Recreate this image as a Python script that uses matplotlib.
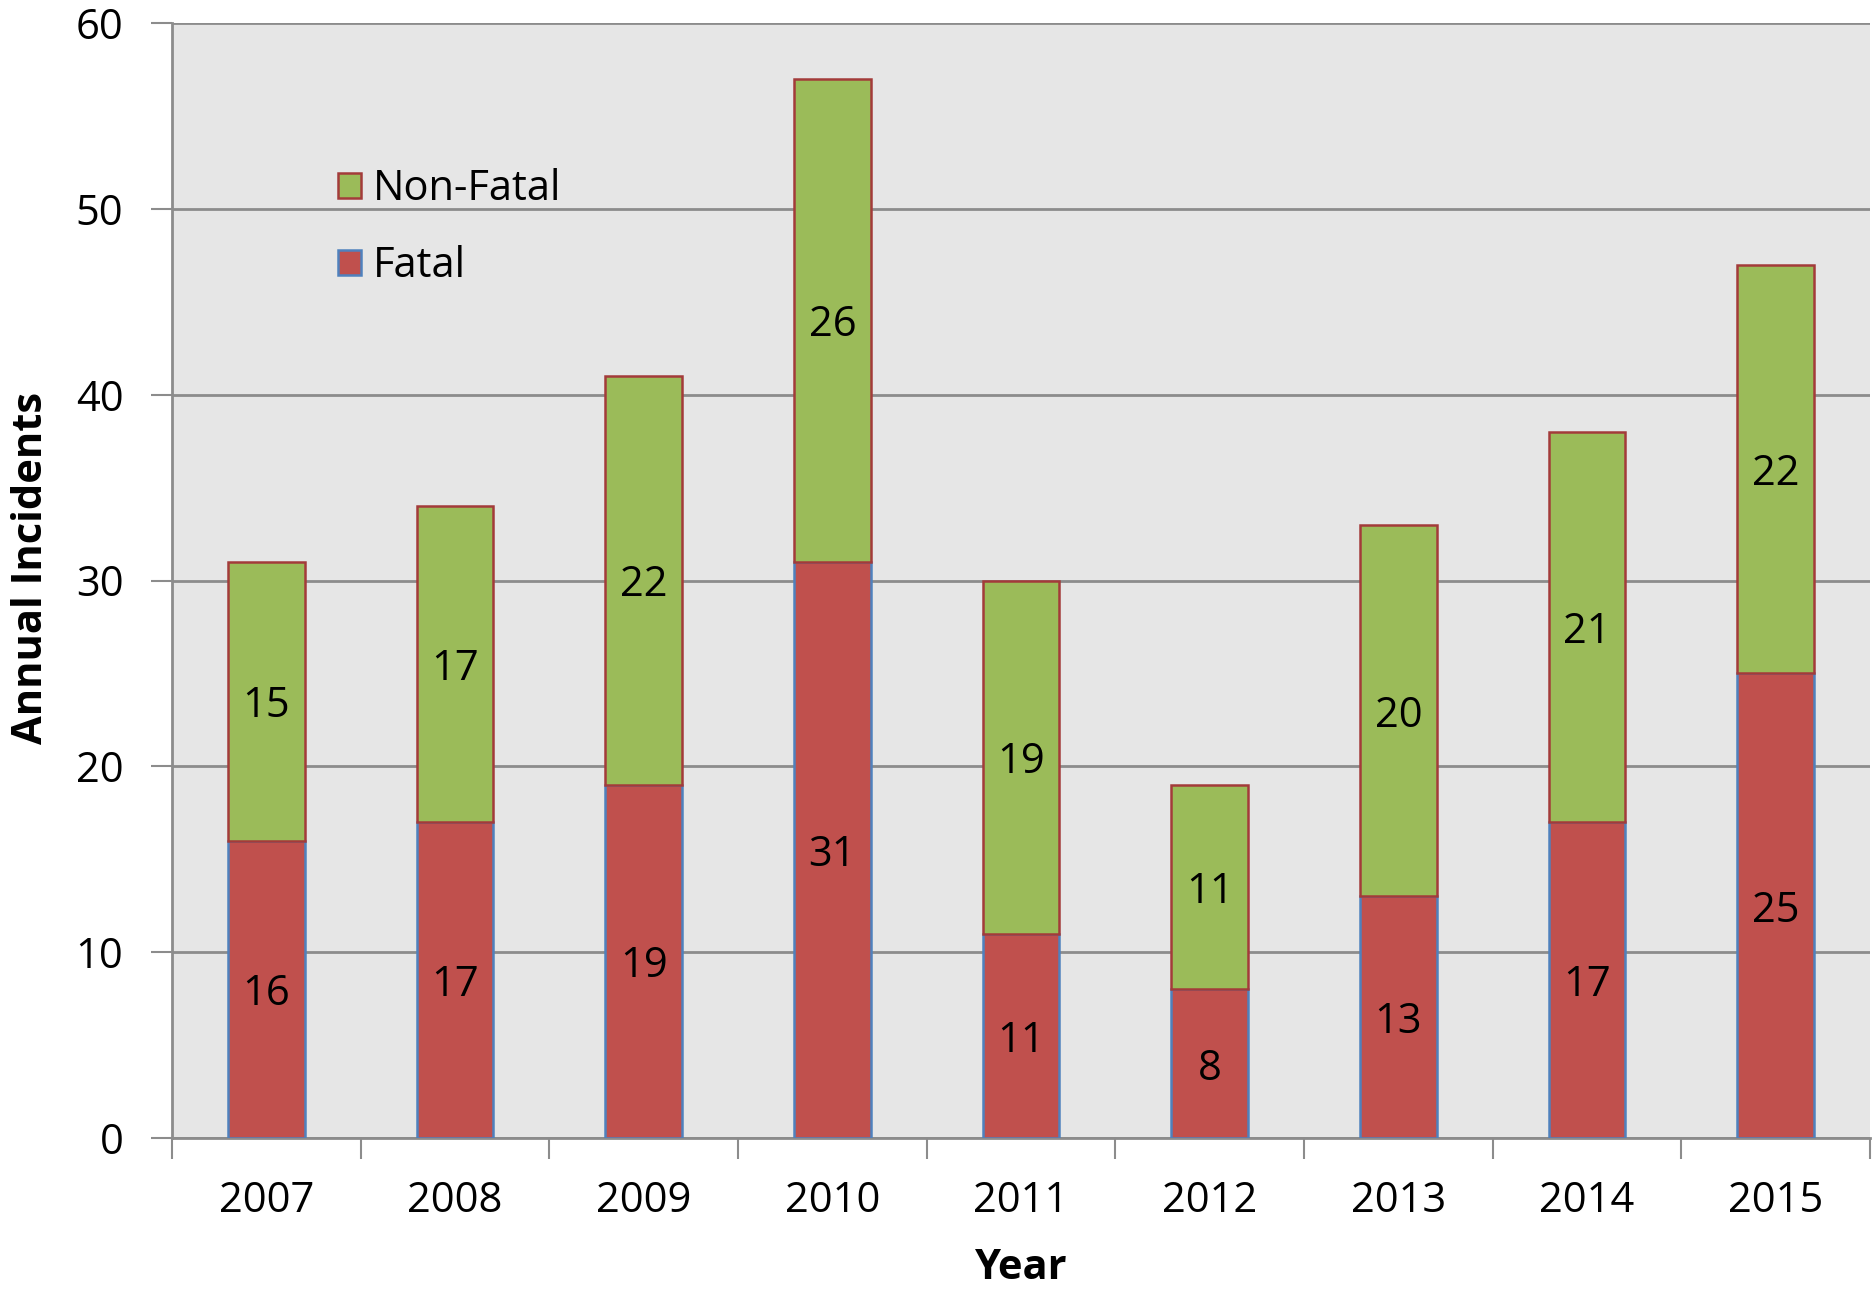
import matplotlib
matplotlib.use("Agg")
import matplotlib.pyplot as plt
import numpy as np
from matplotlib.patches import Patch

years = ["2007", "2008", "2009", "2010", "2011", "2012", "2013", "2014", "2015"]
fatal = [16, 17, 19, 31, 11, 8, 13, 17, 25]
non_fatal = [15, 17, 22, 26, 19, 11, 20, 21, 22]

RED = "#C0504D"
GREEN = "#9BBB59"
RED_EDGE = "#4F81BD"
GREEN_EDGE = "#A33B3A"
GRID = "#8C8C8C"
FS = 30

plt.rcParams["font.family"] = ["Open Sans", "DejaVu Sans"]

W, H = 1874, 1290
fig = plt.figure(figsize=(W / 100, H / 100), dpi=100)
ax = fig.add_axes([172 / W, 1 - 1138 / H, (1870 - 172) / W, (1138 - 23) / H])
ax.set_facecolor("#E6E6E6")

x = np.arange(len(years))
w = 0.405
ax.bar(x, fatal, w, color=RED, edgecolor=RED_EDGE, linewidth=1.8, zorder=3)
ax.bar(x, non_fatal, w, bottom=fatal, color=GREEN, edgecolor=GREEN_EDGE, linewidth=1.8, zorder=3)

for xi, f, n in zip(x, fatal, non_fatal):
    ax.text(xi, f / 2, str(f), ha="center", va="center_baseline", fontsize=FS, zorder=4)
    ax.text(xi, f + n / 2, str(n), ha="center", va="center_baseline", fontsize=FS, zorder=4)

ax.set_xlim(-0.5, len(years) - 0.5)
ax.set_ylim(0, 60)
ax.set_yticks(range(0, 61, 10))
ax.yaxis.grid(True, color=GRID, linewidth=2, zorder=1)
ax.set_axisbelow(True)

# category boundaries as ticks, year names centred between them
ax.set_xticks(np.arange(-0.5, len(years), 1))
ax.set_xticklabels([])
ax.set_xticks(x, minor=True)
ax.set_xticklabels(years, minor=True)
ax.tick_params(axis="x", which="major", length=15, width=1.5, color=GRID)
ax.tick_params(axis="x", which="minor", length=0, pad=30, labelsize=FS)
ax.tick_params(axis="y", length=15, width=1.5, color=GRID, labelsize=FS, pad=20)

for s in ["top", "right"]:
    ax.spines[s].set_visible(False)
for s in ["left", "bottom"]:
    ax.spines[s].set_color(GRID)
    ax.spines[s].set_linewidth(2)

fig.text(32 / W, 1 - 568 / H, "Annual Incidents", rotation=90, ha="center", va="center",
         fontsize=FS, fontweight="bold")
fig.text(1021 / W, 1 - 1279 / H, "Year", ha="center", va="baseline",
         fontsize=FS, fontweight="bold")

handles = [
    Patch(facecolor=GREEN, edgecolor=GREEN_EDGE, linewidth=1.8, label="Non-Fatal"),
    Patch(facecolor=RED, edgecolor=RED_EDGE, linewidth=1.8, label="Fatal"),
]
ax.legend(handles=handles, loc="upper left", bbox_to_anchor=(0.078, 0.9), frameon=False,
          fontsize=FS, handlelength=0.55, handleheight=0.55, handletextpad=0.3,
          labelspacing=0.84, borderpad=0.3)

fig.savefig("out.png", dpi=100)
